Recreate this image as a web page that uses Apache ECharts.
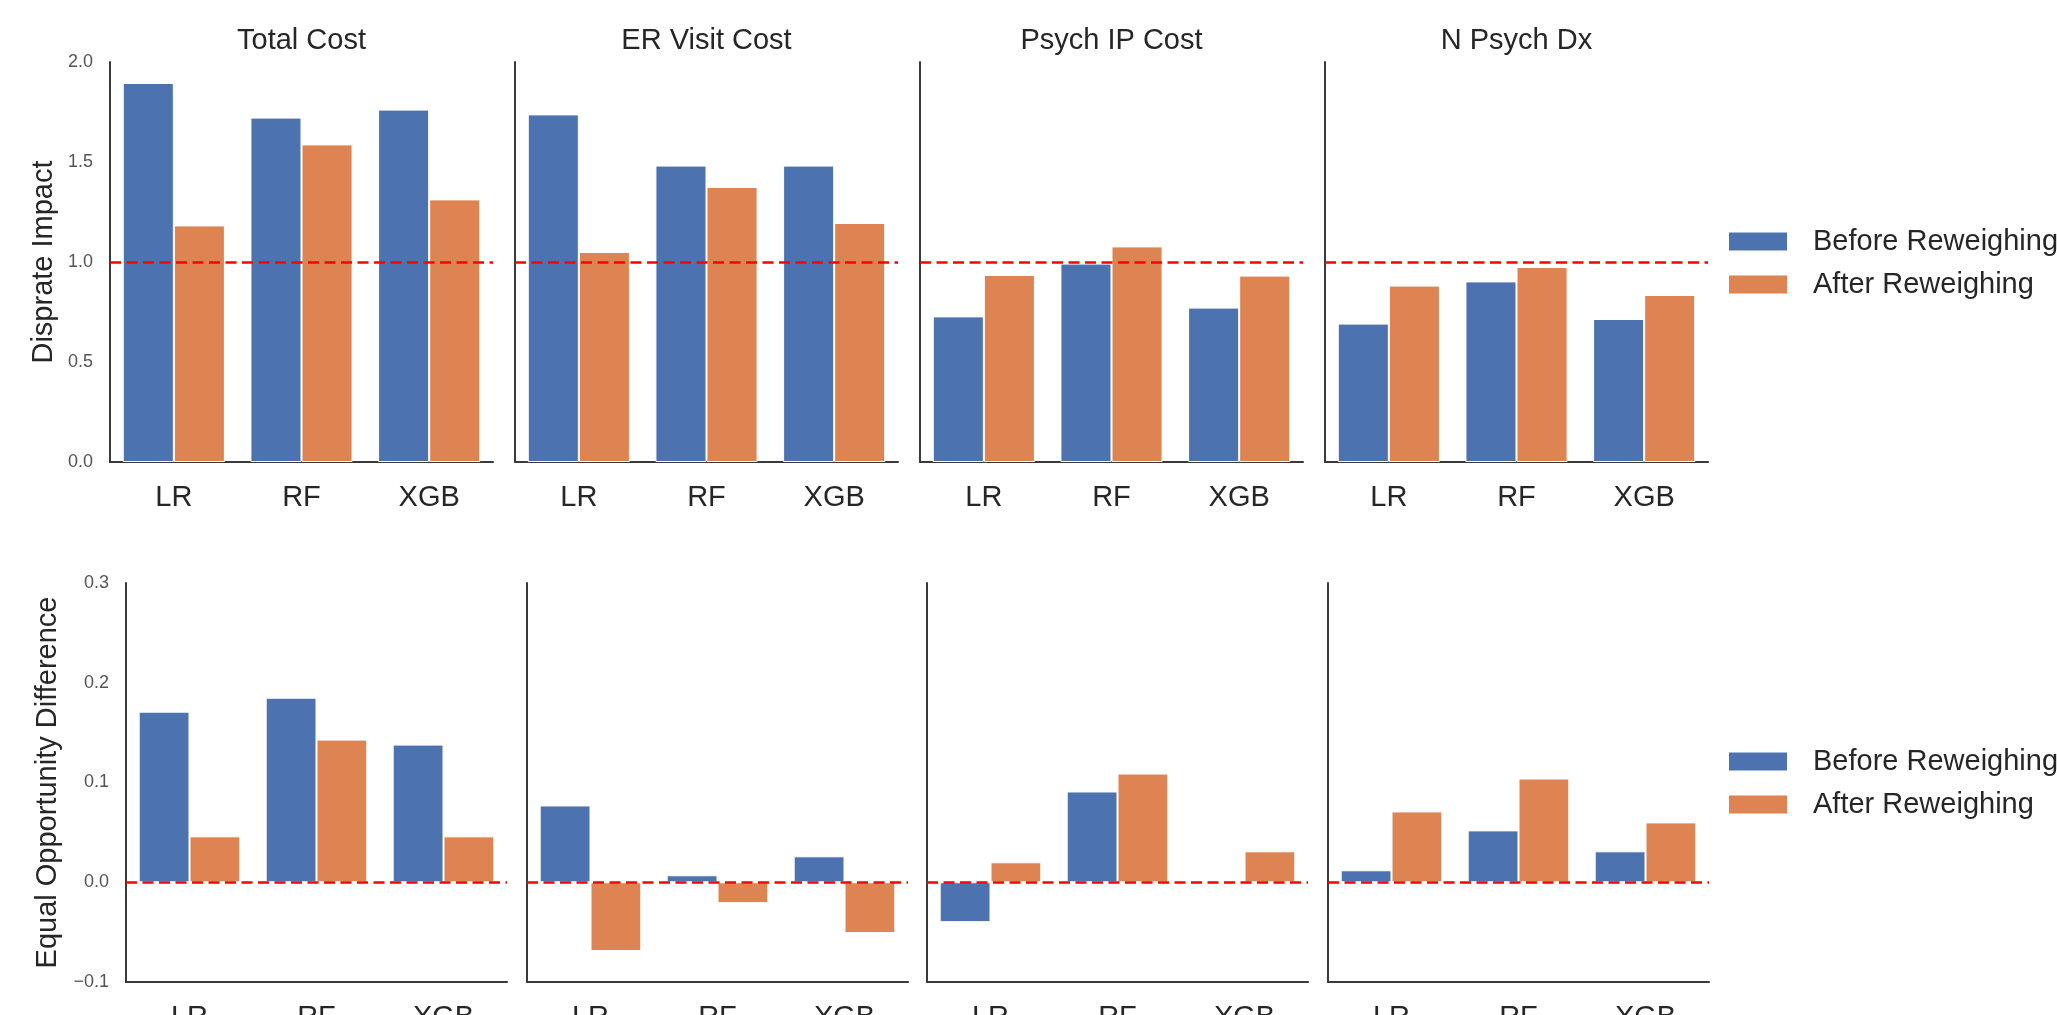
<!DOCTYPE html>
<html>
<head>
<meta charset="utf-8">
<script src="https://cdn.jsdelivr.net/npm/echarts@6/dist/echarts.min.js"></script>
<style>
html,body{margin:0;padding:0;background:#fff;}
#chart{width:2057px;height:1015px;}
</style>
</head>
<body>
<div id="chart"></div>
<script>
const categories = ['LR', 'RF', 'XGB'];
const panelTitles = ['Total Cost', 'ER Visit Cost', 'Psych IP Cost', 'N Psych Dx'];
const seriesNames = ['Before Reweighing', 'After Reweighing'];
const rowLabels = ['Disprate Impact', 'Equal Opportunity Difference'];

// Disparate impact (top row), one list per panel: [LR, RF, XGB]
const diBefore = [[1.895, 1.722, 1.762], [1.738, 1.482, 1.482], [0.728, 0.992, 0.772], [0.692, 0.903, 0.715]];
const diAfter  = [[1.183, 1.588, 1.313], [1.050, 1.375, 1.195], [0.935, 1.078, 0.932], [0.882, 0.975, 0.835]];
// Equal opportunity difference (bottom row)
const eodBefore = [[0.171, 0.185, 0.138], [0.077, 0.007, 0.026], [-0.040, 0.091, 0.000], [0.012, 0.052, 0.031]];
const eodAfter  = [[0.046, 0.143, 0.046], [-0.069, -0.021, -0.051], [0.020, 0.109, 0.031], [0.071, 0.104, 0.060]];

const diTicks = ['0.0', '0.5', '1.0', '1.5', '2.0'];
const eodTicks = ['\u22120.1', '0.0', '0.1', '0.2', '0.3'];
const refLines = [1.0, 0.0];

const FONT = "'Liberation Sans', Arial, Helvetica, sans-serif";
const BLUE = '#4C72B0', ORANGE = '#DD8452';
const AXIS = '#3a3a3a', TEXT = '#262626';

const rows = [
  { top: 62, height: 400, lefts: [110, 515, 920, 1325], width: 383, min: 0, max: 2, interval: 0.5, ticks: diTicks, before: diBefore, after: diAfter, nameGap: 52 },
  { top: 583, height: 399, lefts: [126, 527, 927, 1328], width: 381, min: -0.1, max: 0.3, interval: 0.1, ticks: eodTicks, before: eodBefore, after: eodAfter, nameGap: 64 }
];

const grid = [], xAxis = [], yAxis = [], series = [], graphic = [];
rows.forEach((r, ri) => {
  r.lefts.forEach((left, pi) => {
    const idx = ri * 4 + pi;
    grid.push({ left: left, top: r.top, width: r.width, height: r.height, containLabel: false, outerBoundsMode: 'none' });
    xAxis.push({
      type: 'category', gridIndex: idx, data: categories,
      axisLine: { show: true, onZero: false, lineStyle: { color: AXIS, width: 2 } },
      axisTick: { show: false },
      axisLabel: { show: true, color: TEXT, fontSize: 29, fontFamily: FONT, margin: 21 },
      splitLine: { show: false }
    });
    yAxis.push({
      type: 'value', gridIndex: idx, min: r.min, max: r.max, interval: r.interval,
      name: pi === 0 ? rowLabels[ri] : '',
      nameLocation: 'middle', nameRotate: 90, nameGap: r.nameGap,
      nameTextStyle: { color: TEXT, fontSize: 29, fontFamily: FONT },
      axisLine: { show: true, lineStyle: { color: AXIS, width: 2 } },
      axisTick: { show: false },
      splitLine: { show: false },
      axisLabel: {
        show: pi === 0, color: '#555', fontSize: 18, fontFamily: FONT, margin: 17,
        formatter: (v) => {
          const k = Math.round((v - r.min) / r.interval);
          return r.ticks[k] !== undefined ? r.ticks[k] : '';
        }
      }
    });
    series.push({
      name: seriesNames[0], type: 'bar', xAxisIndex: idx, yAxisIndex: idx,
      data: r.before[pi], barWidth: '40%', barGap: '0%',
      itemStyle: { color: BLUE, borderColor: '#ffffff', borderWidth: 1 },
      markLine: {
        silent: true, symbol: 'none', label: { show: false },
        lineStyle: { color: '#ff0000', type: [11, 5.5], width: 2.6 },
        data: [{ yAxis: refLines[ri] }]
      },
      animation: false
    });
    series.push({
      name: seriesNames[1], type: 'bar', xAxisIndex: idx, yAxisIndex: idx,
      data: r.after[pi], barWidth: '40%', barGap: '0%',
      itemStyle: { color: ORANGE, borderColor: '#ffffff', borderWidth: 1 },
      animation: false
    });
    if (ri === 0) {
      graphic.push({
        type: 'text', x: left + r.width / 2, y: 41,
        style: { text: panelTitles[pi], fill: TEXT, font: '29px ' + FONT, textAlign: 'center', textVerticalAlign: 'middle' }
      });
    }
  });
});

const legendCommon = {
  orient: 'vertical', left: 1727, padding: 0, itemGap: 14,
  itemWidth: 60, itemHeight: 20, icon: 'rect',
  textStyle: { color: TEXT, fontSize: 29, fontFamily: FONT, padding: [0, 0, 0, 20] },
  data: seriesNames
};

const chart = echarts.init(document.getElementById('chart'), null, { renderer: 'canvas' });
chart.setOption({
  backgroundColor: '#ffffff',
  animation: false,
  grid: grid, xAxis: xAxis, yAxis: yAxis, series: series,
  legend: [
    Object.assign({}, legendCommon, { top: 227 }),
    Object.assign({}, legendCommon, { top: 747 })
  ],
  graphic: graphic
});
</script>
</body>
</html>
